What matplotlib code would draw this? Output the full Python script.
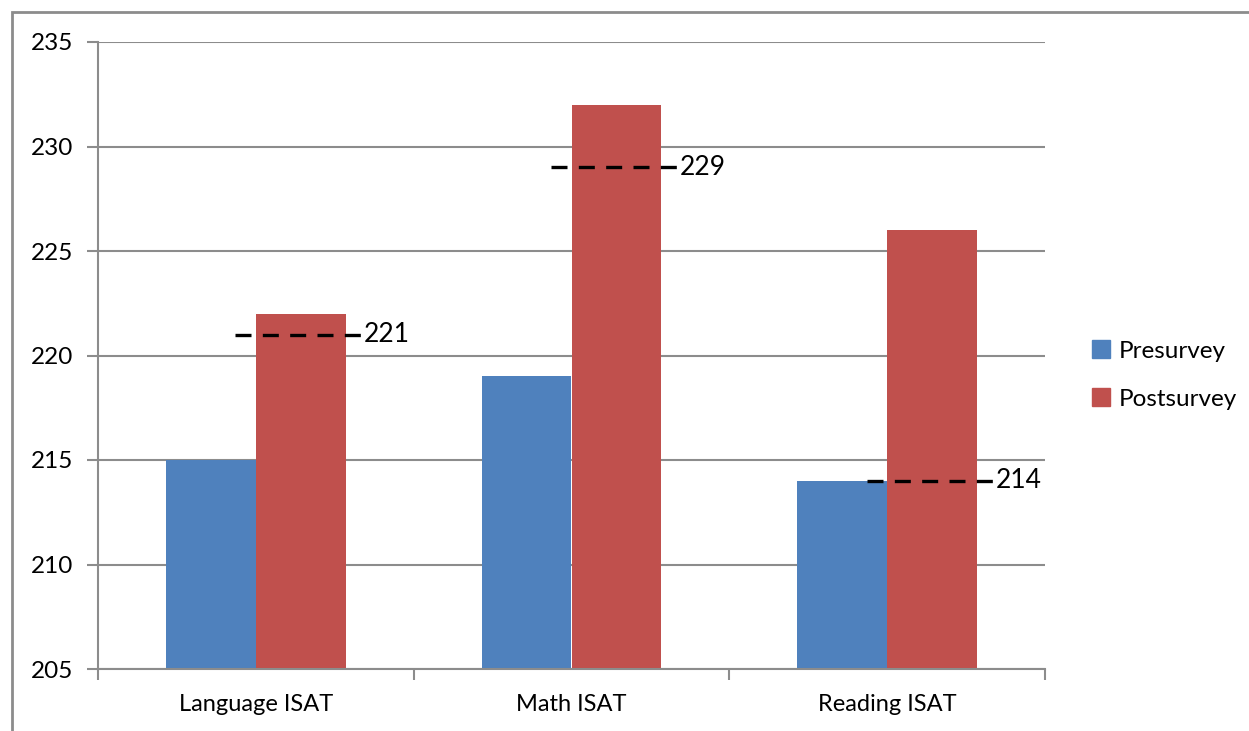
import matplotlib
matplotlib.use("Agg")
import matplotlib.pyplot as plt
import numpy as np
from matplotlib.patches import Rectangle, Patch

categories = ["Language ISAT", "Math ISAT", "Reading ISAT"]
presurvey = [215, 219, 214]
postsurvey = [222, 232, 226]
target = [221, 229, 214]          # dashed reference level per test
target_labels = ["221", "229", "214"]

BLUE = "#4F81BD"
RED = "#C0504D"
GRID = "#8C8C8C"

plt.rcParams["font.family"] = ["Lato", "DejaVu Sans"]

fig = plt.figure(figsize=(12.49, 7.31), dpi=100)
ax = fig.add_axes([98 / 1249, 1 - 669 / 731, (1045 - 98) / 1249, (669 - 42) / 731])

# outer chart-area frame (left and top edges show)
fig.patches.append(Rectangle((12 / 1249, -0.1), 1.2, 1 - 12 / 731 + 0.1,
                             transform=fig.transFigure, fill=False,
                             edgecolor=GRID, lw=2, zorder=0))

x = np.arange(len(categories))
w = 0.285
ax.bar(x - w / 2, [p - 205 for p in presurvey], w, bottom=205, color=BLUE,
       label="Presurvey", zorder=2)
ax.bar(x + w / 2, [p - 205 for p in postsurvey], w, bottom=205, color=RED,
       label="Postsurvey", zorder=2)

# dashed markers with value labels
for i, (t, lab) in enumerate(zip(target, target_labels)):
    ax.plot([i - 0.065, i + 0.335], [t, t], color="black", lw=2.4,
            dashes=(4.8, 3.4), zorder=4, solid_capstyle="butt")
    ax.text(i + 0.343, t, lab, fontsize=19, va="center", ha="left", zorder=5)

ax.set_xlim(-0.5, 2.5)
ax.set_ylim(205, 235)
ax.set_yticks(range(205, 236, 5))
ax.yaxis.grid(True, color=GRID, lw=1.5, zorder=0)
ax.set_axisbelow(True)

ax.set_xticks([-0.5, 0.5, 1.5, 2.5])
ax.set_xticklabels([])
ax.set_xticks(x, minor=True)
ax.set_xticklabels(categories, minor=True)
ax.tick_params(axis="x", which="major", length=8, width=1.5, color=GRID, direction="out")
ax.tick_params(axis="x", which="minor", length=0, pad=18, labelsize=17)
ax.tick_params(axis="y", length=8, width=1.5, color=GRID, labelsize=17.5, pad=10)

for s in ("top", "right"):
    ax.spines[s].set_visible(False)
for s in ("left", "bottom"):
    ax.spines[s].set_color(GRID)
    ax.spines[s].set_linewidth(1.5)

handles = [Patch(color=BLUE, label="Presurvey"), Patch(color=RED, label="Postsurvey")]
fig.legend(handles=handles, loc="center left", bbox_to_anchor=(1070 / 1249, 1 - 375 / 731),
           frameon=False, fontsize=17.5, handlelength=0.75, handleheight=0.75,
           handletextpad=0.35, labelspacing=1.1)

fig.savefig("out.png", dpi=100)
